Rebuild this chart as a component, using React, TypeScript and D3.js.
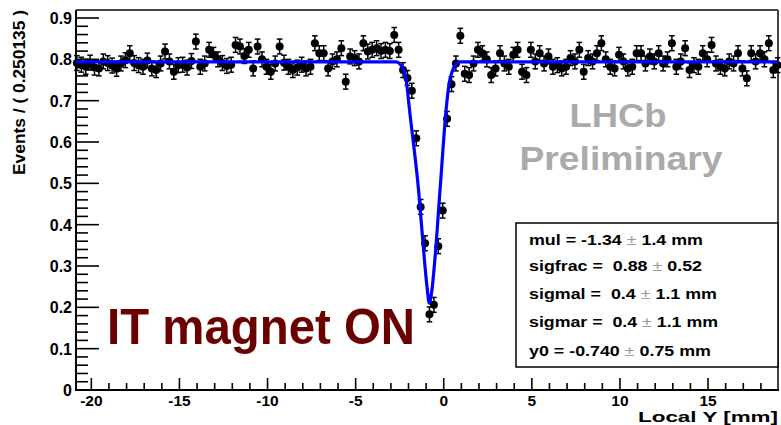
import React from "react";
import * as d3 from "d3";

const W = 781;
const H = 425;

// bin width and first bin centre (mm)
const BIN_WIDTH = 0.250135;
const FIRST_CENTER = -20.82;

// Events per bin (bins 0..159)
const values: number[] = [
  0.791, 0.787, 0.782, 0.792, 0.780, 0.778, 0.795, 0.791, 0.785, 0.777,
  0.790, 0.798, 0.815, 0.791, 0.786, 0.782, 0.797, 0.778, 0.774, 0.790,
  0.819, 0.795, 0.770, 0.786, 0.787, 0.780, 0.796, 0.843, 0.782, 0.790,
  0.823, 0.811, 0.800, 0.791, 0.784, 0.787, 0.835, 0.831, 0.808, 0.823,
  0.778, 0.831, 0.800, 0.782, 0.770, 0.790, 0.831, 0.792, 0.782, 0.774,
  0.780, 0.787, 0.778, 0.782, 0.839, 0.815, 0.815, 0.778, 0.795, 0.800,
  0.827, 0.746, 0.807, 0.803, 0.795, 0.839, 0.819, 0.823, 0.827, 0.820,
  0.823, 0.820, 0.859, 0.823, 0.774, 0.755, 0.724, 0.609, 0.443, 0.355,
  0.183, 0.206, 0.348, 0.434, 0.656, 0.740, 0.790, 0.857, 0.765, 0.762,
  0.790, 0.823, 0.815, 0.800, 0.762, 0.778, 0.815, 0.790, 0.782, 0.811,
  0.823, 0.770, 0.762, 0.823, 0.795, 0.815, 0.790, 0.807, 0.782, 0.786,
  0.778, 0.782, 0.803, 0.795, 0.823, 0.770, 0.803, 0.795, 0.815, 0.839,
  0.800, 0.782, 0.778, 0.811, 0.795, 0.778, 0.782, 0.815, 0.815, 0.790,
  0.807, 0.795, 0.815, 0.790, 0.800, 0.839, 0.782, 0.795, 0.827, 0.774,
  0.786, 0.782, 0.815, 0.800, 0.835, 0.790, 0.782, 0.778, 0.795, 0.790,
  0.815, 0.778, 0.754, 0.815, 0.795, 0.815, 0.800, 0.839, 0.774, 0.786,
];

const ERROR = 0.018;

// Fit curve
const curveX: number[] = [-20.87, -2.7, -2.45, -2.25, -2.1, -1.96, -1.43, -1.11, -0.95, -0.82, -0.7, -0.49, -0.21, 0.15, 0.3, 0.49, 0.7, 0.9, 18.97];
const curveY: number[] = [0.794, 0.794, 0.787, 0.772, 0.74, 0.685, 0.484, 0.322, 0.25, 0.21, 0.232, 0.322, 0.484, 0.685, 0.74, 0.772, 0.789, 0.794, 0.794];

const xMajorTicks: number[] = [-20, -15, -10, -5, 0, 5, 10, 15];
const yMajorTicks: number[] = [0, 0.1, 0.2, 0.3, 0.4, 0.5, 0.6, 0.7, 0.8, 0.9];

const legendLines = [
  { name: "mul = ", val: "-1.34", err: "1.4 mm", len: 174 },
  { name: "sigfrac =\u00a0 ", val: "0.88", err: "0.52", len: 173 },
  { name: "sigmal =\u00a0 ", val: "0.4", err: "1.1 mm", len: 188 },
  { name: "sigmar =\u00a0 ", val: "0.4", err: "1.1 mm", len: 189 },
  { name: "y0 = ", val: "-0.740", err: "0.75 mm", len: 182 },
];

const FONT = "'Liberation Sans', Arial, Helvetica, sans-serif";

export default function App() {
  const left = 76, right = 778, top = 10, bottom = 390;
  const x = d3.scaleLinear().domain([-20.87, 18.97]).range([left, right]);
  const y = d3.scaleLinear().domain([0, 0.9194]).range([bottom, top]);

  const xMinor = d3.range(-20, 19, 1).filter((v) => !xMajorTicks.includes(v));
  const yMinor = d3.range(0, 0.92, 0.02).filter((v) => Math.abs(Math.round(v * 10) - v * 10) > 1e-6);

  const curveData = curveX.map((cx, i) => [cx, curveY[i]] as [number, number]);
  const line = d3
    .line<[number, number]>()
    .x((d) => x(d[0]))
    .y((d) => y(d[1]))
    .curve(d3.curveMonotoneX);

  const points = values.map((v, i) => ({ cx: FIRST_CENTER + i * BIN_WIDTH, v }));

  return (
    <svg
      width={W}
      height={H}
      style={{ position: "absolute", left: 0, top: 0, background: "#fff" }}
      fontFamily={FONT}
    >
      <rect x={0} y={0} width={W} height={H} fill="#fff" />

      {/* frame */}
      <line x1={left} x2={right} y1={top} y2={top} stroke="#444" strokeWidth={2} />
      <line x1={right} x2={right} y1={top} y2={bottom} stroke="#444" strokeWidth={2} />

      {/* y minor ticks */}
      {yMinor.map((v) => (
        <line key={"ym" + v} x1={left} x2={left + 12} y1={y(v)} y2={y(v)} stroke="#000" strokeWidth={1.6} />
      ))}
      {yMajorTicks.map((v) => (
        <g key={"yM" + v}>
          <line x1={left} x2={left + 23} y1={y(v)} y2={y(v)} stroke="#000" strokeWidth={1.6} />
          <text x={72} y={y(v) + 6} textAnchor="end" fontSize={16} fontWeight="bold" fill="#000">
            {v === 0 ? "0" : d3.format(".1f")(v)}
          </text>
        </g>
      ))}

      {/* x ticks */}
      {xMinor.map((v) => (
        <line key={"xm" + v} x1={x(v)} x2={x(v)} y1={bottom} y2={bottom - 7} stroke="#000" strokeWidth={1.6} />
      ))}
      {xMajorTicks.map((v) => (
        <g key={"xM" + v}>
          <line x1={x(v)} x2={x(v)} y1={bottom} y2={bottom - 12} stroke="#000" strokeWidth={1.6} />
          <text x={x(v)} y={405.5} textAnchor="middle" fontSize={15.5} fontWeight="bold" fill="#000">
            {String(v)}
          </text>
        </g>
      ))}

      {/* axes */}
      <line x1={left} x2={left} y1={top} y2={bottom + 1} stroke="#000" strokeWidth={2} />
      <line x1={left - 1} x2={right + 1} y1={bottom} y2={bottom} stroke="#000" strokeWidth={2} />

      {/* axis titles */}
      <text
        transform={`translate(25,${top}) rotate(-90)`}
        textAnchor="end"
        fontSize={17}
        fontWeight="bold"
        textLength={165}
        lengthAdjust="spacingAndGlyphs"
      >
        Events / ( 0.250135 )
      </text>
      <text x={638} y={422} fontSize={14.5} fontWeight="bold" textLength={140} lengthAdjust="spacingAndGlyphs">
        Local Y [mm]
      </text>

      {/* LHCb labels */}
      <text x={618} y={127} textAnchor="middle" fontSize={33} fontWeight="bold" fill="#aaaaaa" textLength={97} lengthAdjust="spacingAndGlyphs">
        LHCb
      </text>
      <text x={621} y={170} textAnchor="middle" fontSize={33} fontWeight="bold" fill="#aaaaaa" textLength={203} lengthAdjust="spacingAndGlyphs">
        Preliminary
      </text>

      {/* legend box */}
      <rect x={516} y={223} width={right - 516} height={144} fill="#fff" stroke="#000" strokeWidth={1.5} />
      {legendLines.map((l, i) => (
        <text
          key={l.name}
          x={529}
          y={[245, 271, 299, 327, 356][i]}
          fontSize={15}
          fontWeight="bold"
          fill="#000"
          textLength={l.len}
          lengthAdjust="spacingAndGlyphs"
          style={{ whiteSpace: "pre" }}
        >
          {l.name}
          {l.val}
          <tspan fill="#999" fontWeight="normal">{"\u00a0±\u00a0"}</tspan>
          {l.err}
        </text>
      ))}

      {/* IT magnet ON */}
      <text x={107} y={344} fontSize={50} fontWeight="bold" fill="#6b0000" textLength={308} lengthAdjust="spacingAndGlyphs">
        IT magnet ON
      </text>

      {/* data points */}
      <g>
        {points.map((p, i) => {
          const px = x(p.cx);
          const y1 = y(p.v + ERROR);
          const y2 = y(p.v - ERROR);
          return (
            <g key={i}>
              <line x1={px} x2={px} y1={y1} y2={y2} stroke="#000" strokeWidth={1.5} />
              <line x1={px - 2.8} x2={px + 2.8} y1={y1} y2={y1} stroke="#000" strokeWidth={1.5} />
              <line x1={px - 2.8} x2={px + 2.8} y1={y2} y2={y2} stroke="#000" strokeWidth={1.5} />
              <circle cx={px} cy={y(p.v)} r={4} fill="#000" />
            </g>
          );
        })}
      </g>

      {/* fit curve */}
      <path d={line(curveData) || ""} fill="none" stroke="#0000ff" strokeWidth={3.2} />
    </svg>
  );
}
